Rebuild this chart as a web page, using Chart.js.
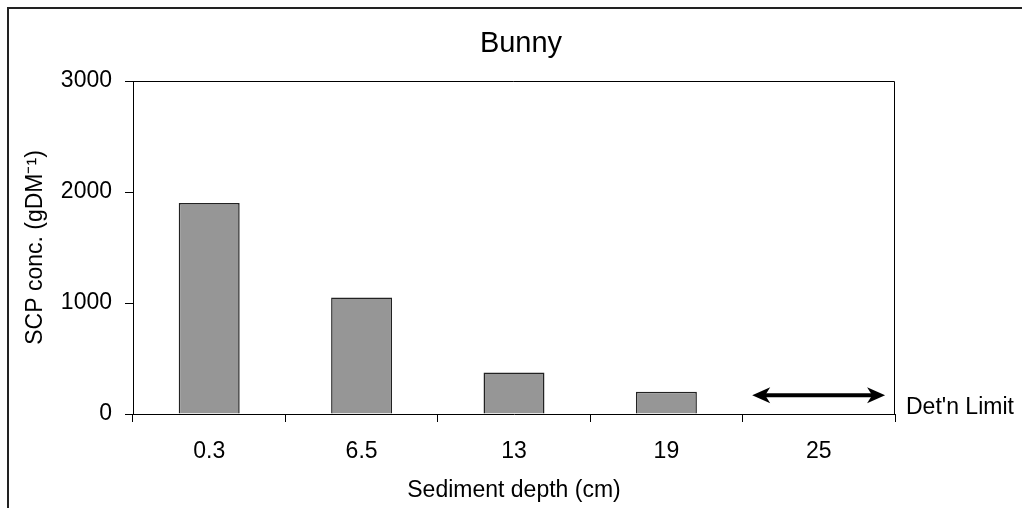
<!DOCTYPE html>
<html>
<head>
<meta charset="utf-8">
<script src="https://cdn.jsdelivr.net/npm/chart.js"></script>
<style>
  body { margin: 0; background: #fff; }
  canvas { display: block; }
</style>
</head>
<body>
<canvas id="myChart" width="1022" height="508"></canvas>
<script>
// values
const depths = ['0.3', '6.5', '13', '19', '25'];
const scpConc = [1900, 1050, 375, 200, null];
const yTicks = [0, 1000, 2000, 3000];
const detLimit = 170;          // level of the double arrow at the last depth
const detLimitIndex = 4;       // category where the arrow sits
const chartTitle = 'Bunny';
const detLabel = "Det'n Limit";

const FONT = '"Liberation Sans", Arial, sans-serif';

// outer frame, title, plot frame, detection limit arrow
const extras = {
  id: 'extras',
  beforeDraw(chart) {
    const ctx = chart.ctx;
    ctx.save();
    ctx.fillStyle = '#fff';
    ctx.fillRect(0, 0, chart.width, chart.height);
    ctx.strokeStyle = '#222';
    ctx.lineWidth = 2;
    ctx.strokeRect(8, 8, 1100, 600);
    ctx.restore();
  },
  afterDraw(chart) {
    const ctx = chart.ctx;
    const a = chart.chartArea;
    const x = chart.scales.x;
    const y = chart.scales.y;
    ctx.save();

    // top + right edges of the plot box
    ctx.strokeStyle = '#000';
    ctx.lineWidth = 1;
    ctx.beginPath();
    ctx.moveTo(a.left, a.top + 0.5);
    ctx.lineTo(a.right - 0.5, a.top + 0.5);
    ctx.lineTo(a.right - 0.5, a.bottom);
    ctx.stroke();

    // title
    ctx.fillStyle = '#000';
    ctx.font = '29px ' + FONT;
    ctx.textAlign = 'center';
    ctx.textBaseline = 'middle';
    ctx.fillText(chartTitle, 521, 44);

    // double arrow
    const cw = (x.right - x.left) / depths.length;
    const cx = x.getPixelForValue(detLimitIndex);
    const x0 = cx - 0.437 * cw;
    const x1 = cx + 0.435 * cw;
    const ay = y.getPixelForValue(detLimit);
    const hl = 16, hw = 8;
    ctx.strokeStyle = '#000';
    ctx.lineWidth = 4;
    ctx.beginPath();
    ctx.moveTo(x0 + 8, ay);
    ctx.lineTo(x1 - 8, ay);
    ctx.stroke();
    ctx.beginPath();
    ctx.moveTo(x0, ay);
    ctx.lineTo(x0 + hl + 2, ay - hw);
    ctx.lineTo(x0 + hl - 3, ay);
    ctx.lineTo(x0 + hl + 2, ay + hw);
    ctx.closePath();
    ctx.fill();
    ctx.beginPath();
    ctx.moveTo(x1, ay);
    ctx.lineTo(x1 - hl - 2, ay - hw);
    ctx.lineTo(x1 - hl + 3, ay);
    ctx.lineTo(x1 - hl - 2, ay + hw);
    ctx.closePath();
    ctx.fill();

    // label outside the plot
    ctx.font = '23px ' + FONT;
    ctx.textAlign = 'left';
    ctx.textBaseline = 'alphabetic';
    ctx.fillText(detLabel, a.right + 11, a.bottom);
    ctx.restore();
  }
};

const ctx = document.getElementById('myChart').getContext('2d');
new Chart(ctx, {
  type: 'bar',
  data: {
    labels: depths,
    datasets: [{
      data: scpConc,
      backgroundColor: '#969696',
      borderColor: '#222',
      borderWidth: 1.5,
      barPercentage: 0.4,
      categoryPercentage: 1.0
    }]
  },
  options: {
    responsive: false,
    animation: false,
    layout: { padding: { top: 81, right: 127, bottom: 0, left: 0 } },
    plugins: {
      legend: { display: false },
      title: { display: false },
      tooltip: { enabled: false }
    },
    scales: {
      x: {
        afterFit: (s) => { s.height = 94; },
        grid: { drawOnChartArea: false, drawTicks: true, tickLength: 8, color: '#000', offset: true },
        border: { display: true, color: '#000', width: 1 },
        ticks: { color: '#000', font: { family: FONT, size: 23 }, padding: 16, maxRotation: 0 },
        title: {
          display: true, text: 'Sediment depth (cm)', color: '#000',
          font: { family: FONT, size: 23 }, padding: { top: 0, bottom: 4 }
        }
      },
      y: {
        min: 0,
        max: 3000,
        afterFit: (s) => { s.width = 133; },
        afterBuildTicks: (s) => { s.ticks = yTicks.map(v => ({ value: v })); },
        grid: { drawOnChartArea: false, drawTicks: true, tickLength: 8, color: '#000' },
        border: { display: true, color: '#000', width: 1 },
        ticks: {
          color: '#000', font: { family: FONT, size: 23 }, padding: 13,
          callback: (v) => String(v)
        },
        title: {
          display: true, text: 'SCP conc. (gDM⁻¹)', color: '#000',
          font: { family: FONT, size: 23 }, padding: { top: 22, bottom: 0 }
        }
      }
    }
  },
  plugins: [extras]
});
</script>
</body>
</html>
